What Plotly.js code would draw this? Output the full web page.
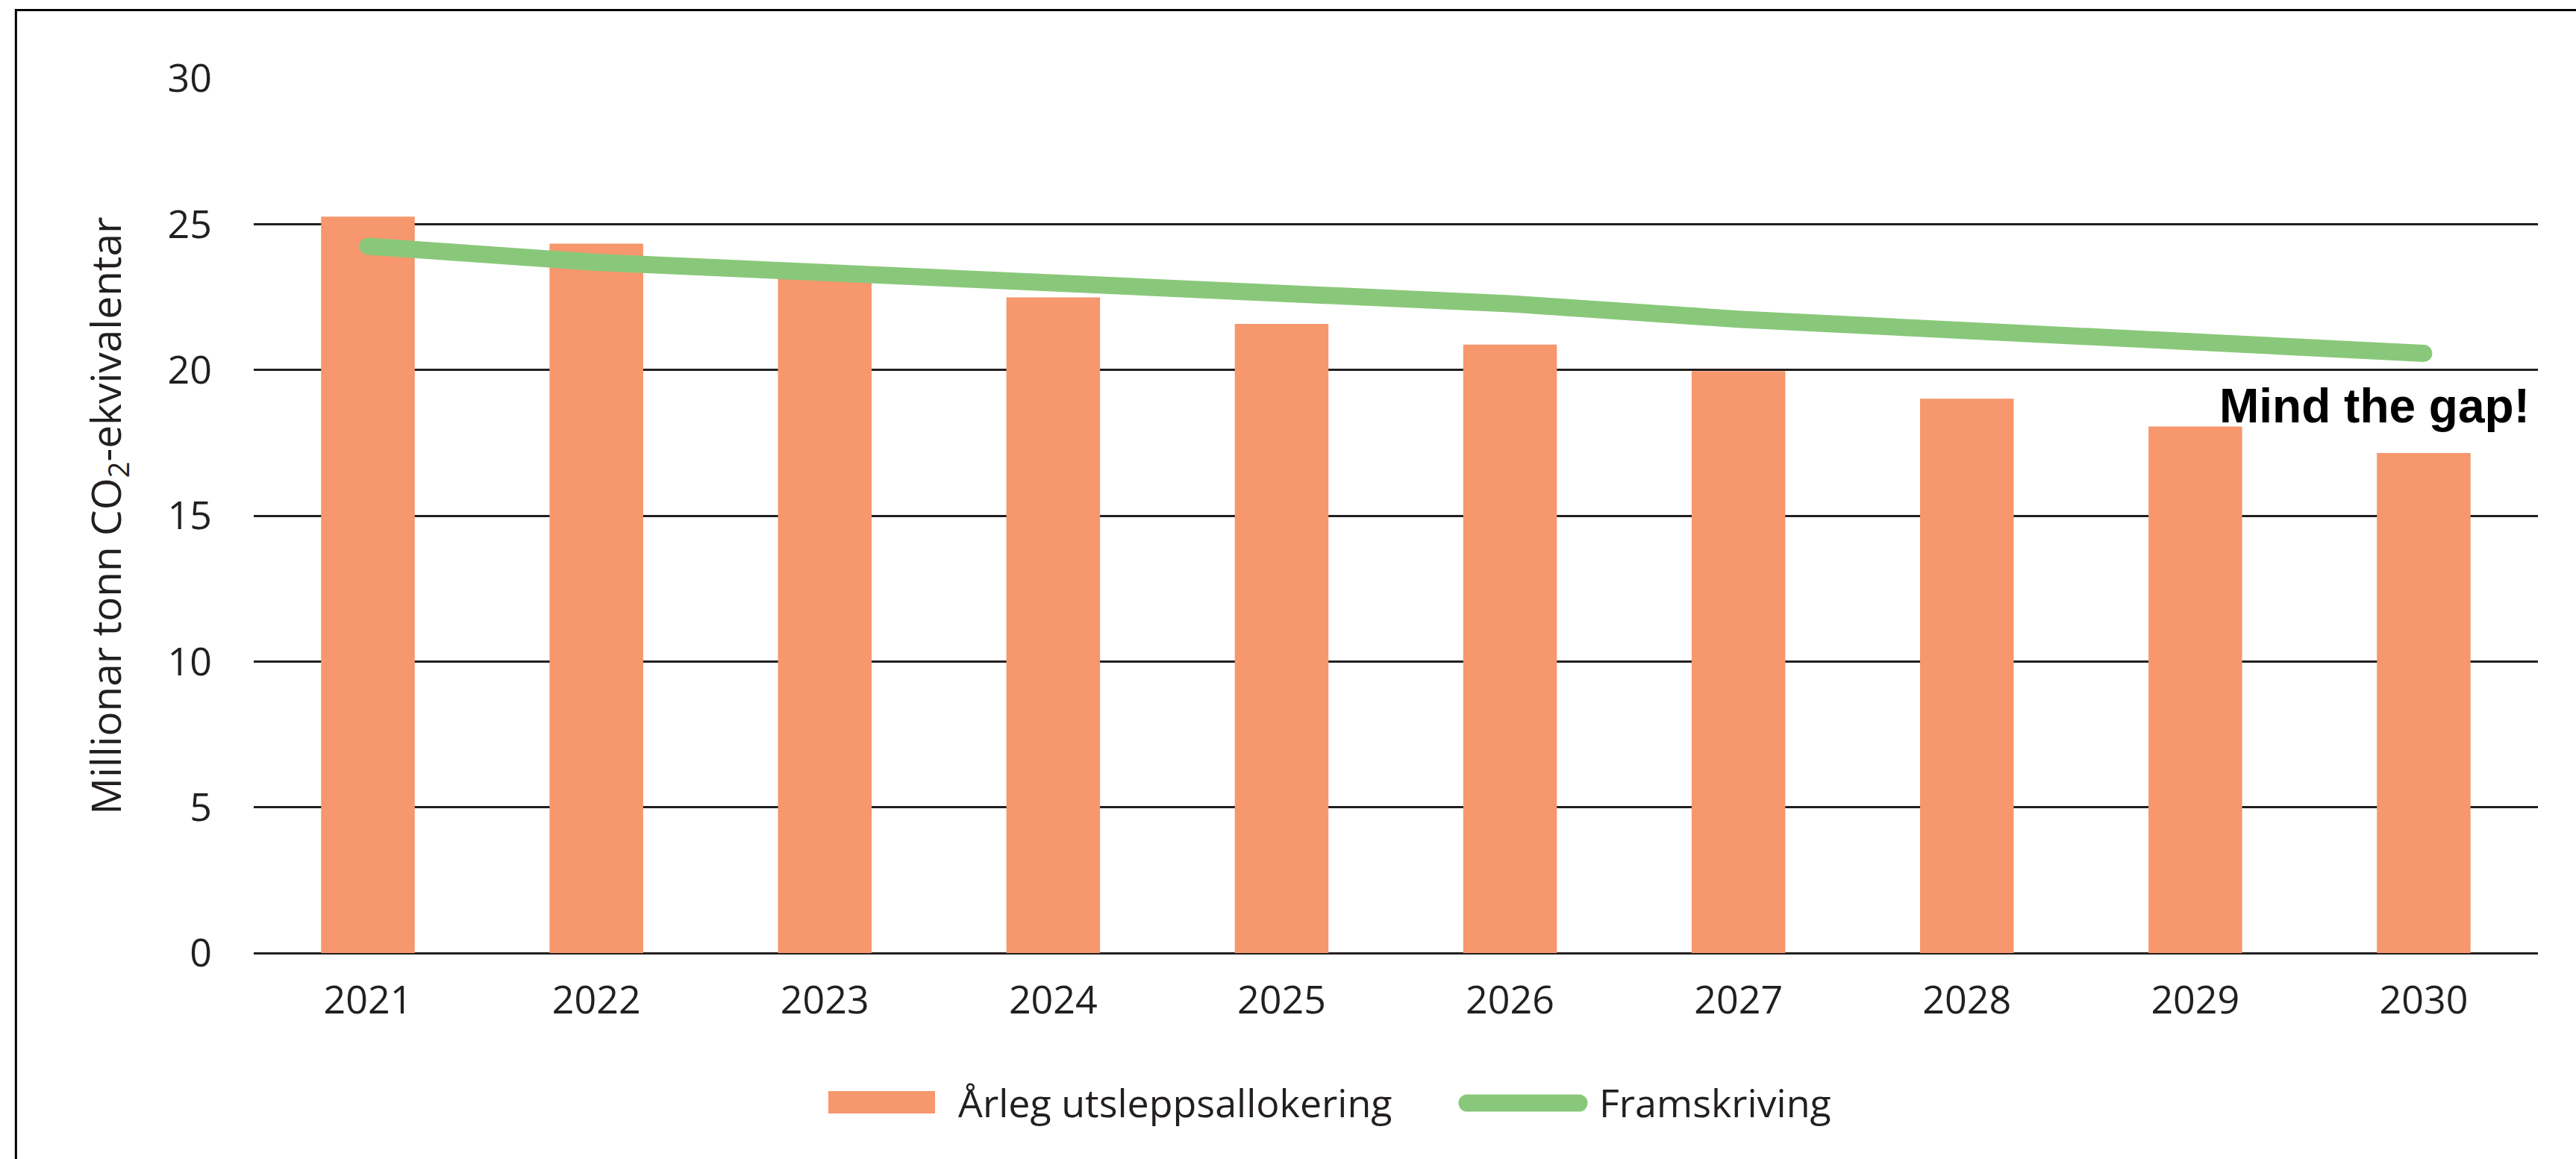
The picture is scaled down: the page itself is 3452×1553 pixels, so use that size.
<!DOCTYPE html>
<html>
<head>
<meta charset="utf-8">
<script src="https://cdn.plot.ly/plotly-3.0.1.min.js"></script>
<style>
  html, body { margin: 0; padding: 0; background: #fff; }
  #plot { width: 3452px; height: 1553px; }
</style>
</head>
<body>
<div id="plot"></div>
<script>
// År
const years = ['2021', '2022', '2023', '2024', '2025', '2026', '2027', '2028', '2029', '2030'];

// Årleg utsleppsallokering (mill. tonn CO2-ekv.)
const allokering = [25.26, 24.33, 23.45, 22.49, 21.58, 20.87, 19.96, 19.01, 18.06, 17.15];

// Framskriving
const framskriving = [24.24, 23.69, 23.34, 22.99, 22.68, 22.27, 21.74, 21.35, 20.99, 20.57];

const yTicks = [0, 5, 10, 15, 20, 25, 30];

const namnBar = 'Årleg utsleppsallokering';
const namnLine = 'Framskriving';

const orange = '#F6976D';
const green = '#89C87A';
const ink = '#231F20';
const font = 'Open Sans, sans-serif';

const bars = {
    x: years,
    y: allokering,
    type: 'bar',
    name: namnBar,
    marker: { color: orange, line: { width: 0 } },
    showlegend: false,
    hoverinfo: 'skip'
};

const line = {
    x: years,
    y: framskriving,
    type: 'scatter',
    mode: 'lines',
    name: namnLine,
    line: { color: green, width: 23 },
    showlegend: false,
    hoverinfo: 'skip'
};

const layout = {
    width: 3452,
    height: 1553,
    paper_bgcolor: '#fff',
    plot_bgcolor: '#fff',
    margin: { l: 340, r: 51, t: 105, b: 276 },
    bargap: 0.59,
    font: { family: font, color: ink, size: 52 },
    xaxis: {
        type: 'category',
        showgrid: false,
        showline: false,
        zeroline: false,
        ticks: '',
        ticklabelstandoff: 28,
        tickfont: { family: font, size: 52, color: ink }
    },
    yaxis: {
        range: [0, 30],
        tickvals: yTicks,
        showgrid: true,
        gridcolor: ink,
        gridwidth: 3,
        zeroline: true,
        zerolinecolor: ink,
        zerolinewidth: 3,
        showline: false,
        ticks: '',
        ticklabelstandoff: 55,
        tickfont: { family: font, size: 52, color: ink },
        title: {
            text: 'Millionar tonn CO<sub>2</sub>-ekvivalentar',
            font: { family: font, size: 55, color: ink },
            standoff: 44
        }
    },
    shapes: [
        // ramme rundt figuren
        {
            type: 'rect', xref: 'paper', yref: 'paper',
            x0: -0.1041, x1: 1.05, y0: -0.3, y1: 1.078,
            line: { color: '#000', width: 3 }, fillcolor: 'rgba(0,0,0,0)'
        },
        // forklaring
        {
            type: 'rect', xref: 'paper', yref: 'paper',
            x0: (1110 - 340) / 3061, x1: (1253 - 340) / 3061,
            y0: (1277 - 1492) / 1172, y1: (1277 - 1462) / 1172,
            line: { width: 0 }, fillcolor: orange
        },
        {
            type: 'line', xref: 'paper', yref: 'paper',
            x0: (1966 - 340) / 3061, x1: (2116 - 340) / 3061,
            y0: (1277 - 1478) / 1172, y1: (1277 - 1478) / 1172,
            line: { color: green, width: 23 }
        }
    ],
    annotations: [
        {
            text: namnBar, xref: 'paper', yref: 'paper',
            x: (1282 - 340) / 3061, y: (1277 - 1476) / 1172,
            xanchor: 'left', yanchor: 'middle', showarrow: false,
            font: { family: font, size: 52, color: ink }
        },
        {
            text: namnLine, xref: 'paper', yref: 'paper',
            x: (2141 - 340) / 3061, y: (1277 - 1476) / 1172,
            xanchor: 'left', yanchor: 'middle', showarrow: false,
            font: { family: font, size: 52, color: ink }
        },
        {
            text: '<b>Mind the gap!</b>', xref: 'paper', yref: 'y',
            x: 0.997, y: 18.76,
            xanchor: 'right', yanchor: 'middle', showarrow: false,
            font: { family: 'Liberation Sans, Arial, sans-serif', size: 64, color: '#000' }
        }
    ]
};

Plotly.newPlot('plot', [bars, line], layout, { staticPlot: true }).then(() => {
    // runde endar på linjene
    document.querySelectorAll('.scatterlayer path.js-line').forEach(p => {
        p.style.strokeLinecap = 'round';
    });
    document.querySelectorAll('.layer-above path, .layer-below path').forEach(p => {
        if (p.getAttribute('d') && p.getAttribute('d').split('L').length === 2) {
            p.style.strokeLinecap = 'round';
        }
    });
});
</script>
</body>
</html>
